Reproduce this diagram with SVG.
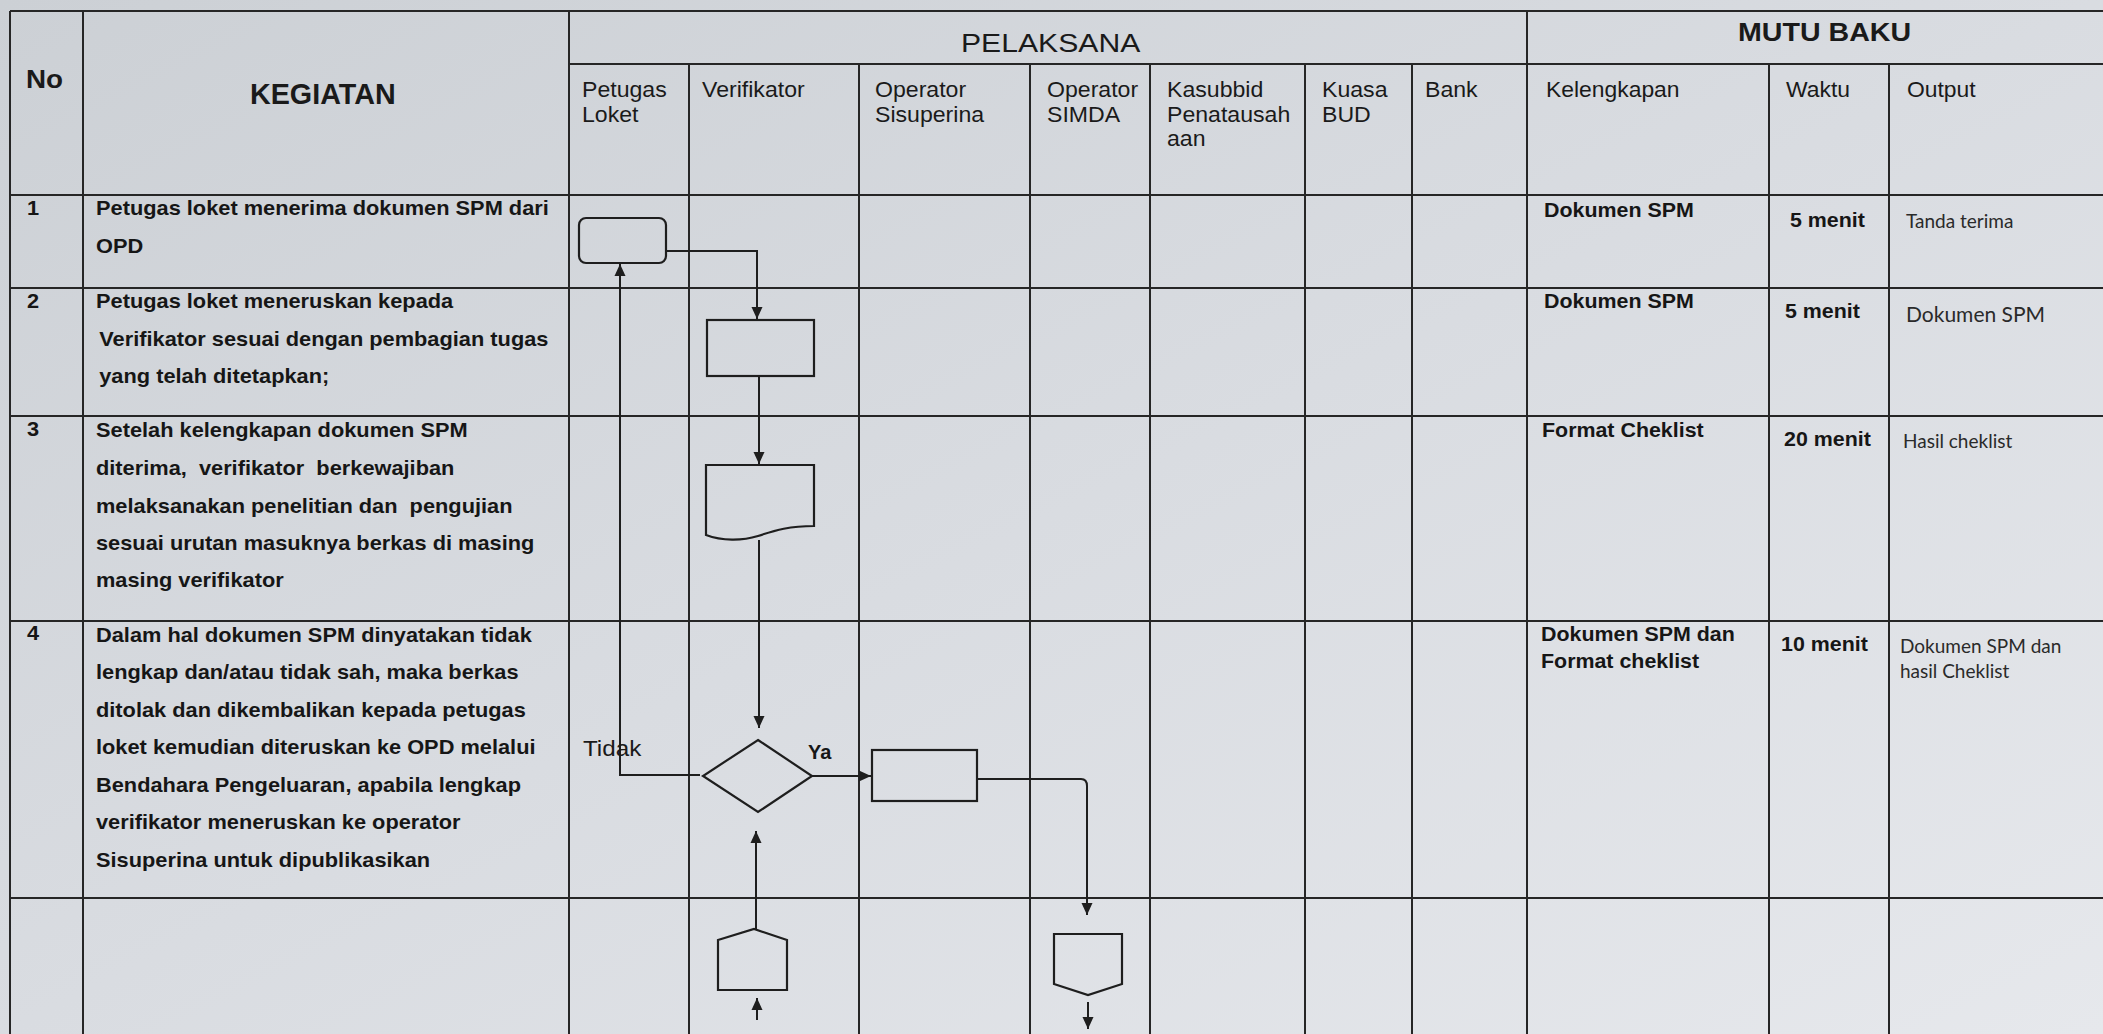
<svg xmlns="http://www.w3.org/2000/svg" width="2103" height="1034" viewBox="0 0 2103 1034">
<defs>
<linearGradient id="bg" x1="0" y1="0" x2="1" y2="1">
<stop offset="0" stop-color="#ccd0d5"/>
<stop offset="0.5" stop-color="#d9dce1"/>
<stop offset="1" stop-color="#e6e8ec"/>
</linearGradient>
<marker id="ah" viewBox="0 0 12 12" refX="12" refY="6" markerWidth="12" markerHeight="12" markerUnits="userSpaceOnUse" orient="auto">
<path d="M0,0.5 L12,6 L0,11.5 z" fill="#1e1e1e"/>
</marker>
<style>
.grid line{stroke:#262626;stroke-width:2}
.shape{fill:none;stroke:#1e1e1e;stroke-width:2.2}
.conn path{fill:none;stroke:#1e1e1e;stroke-width:2;marker-end:url(#ah)}
.h{font-family:"Liberation Sans",Arial,sans-serif;font-size:26px;fill:#1a1a1a}
.hb{font-family:"Liberation Sans",Arial,sans-serif;font-size:26px;font-weight:bold;fill:#1a1a1a}
.c{font-family:"Liberation Sans",Arial,sans-serif;font-size:22px;fill:#1a1a1a}
.b{font-family:"Liberation Sans",Arial,sans-serif;font-size:20px;font-weight:bold;fill:#161616}
.o{font-family:Lato,"Liberation Sans",sans-serif;font-size:19px;fill:#2a2a2a}
.lbl{font-family:"Liberation Sans",Arial,sans-serif;font-size:22px;fill:#1a1a1a}
</style>
</defs>
<rect x="0" y="0" width="2103" height="1034" fill="url(#bg)"/>

<g id="table" class="grid">
<line x1="10" y1="11" x2="2103" y2="11"/>
<line x1="569" y1="64" x2="2103" y2="64"/>
<line x1="10" y1="195" x2="2103" y2="195"/>
<line x1="10" y1="288" x2="2103" y2="288"/>
<line x1="10" y1="416" x2="2103" y2="416"/>
<line x1="10" y1="621" x2="2103" y2="621"/>
<line x1="10" y1="898" x2="2103" y2="898"/>
<line x1="10" y1="11" x2="10" y2="1034"/>
<line x1="83" y1="11" x2="83" y2="1034"/>
<line x1="569" y1="11" x2="569" y2="1034"/>
<line x1="689" y1="64" x2="689" y2="1034"/>
<line x1="859" y1="64" x2="859" y2="1034"/>
<line x1="1030" y1="64" x2="1030" y2="1034"/>
<line x1="1150" y1="64" x2="1150" y2="1034"/>
<line x1="1305" y1="64" x2="1305" y2="1034"/>
<line x1="1412" y1="64" x2="1412" y2="1034"/>
<line x1="1527" y1="11" x2="1527" y2="1034"/>
<line x1="1769" y1="64" x2="1769" y2="1034"/>
<line x1="1889" y1="64" x2="1889" y2="1034"/>
</g>

<g id="header">
<text class="hb" transform="translate(26 88) scale(1.07 1)">No</text>
<text class="hb" style="font-size:29px" transform="translate(250 104) scale(0.99 1)">KEGIATAN</text>
<text class="h" transform="translate(961 52) scale(1.16 1)">PELAKSANA</text>
<text class="hb" transform="translate(1738 41) scale(1.1 1)">MUTU BAKU</text>
<text class="c" transform="translate(582 97) scale(1.05 1)"><tspan x="0" y="0">Petugas</tspan><tspan x="0" y="24.6">Loket</tspan></text>
<text class="c" transform="translate(702 97) scale(1.05 1)">Verifikator</text>
<text class="c" transform="translate(875 97) scale(1.05 1)"><tspan x="0" y="0">Operator</tspan><tspan x="0" y="24.6">Sisuperina</tspan></text>
<text class="c" transform="translate(1047 97) scale(1.05 1)"><tspan x="0" y="0">Operator</tspan><tspan x="0" y="24.6">SIMDA</tspan></text>
<text class="c" transform="translate(1167 97) scale(1.05 1)"><tspan x="0" y="0">Kasubbid</tspan><tspan x="0" y="24.6">Penatausah</tspan><tspan x="0" y="49.2">aan</tspan></text>
<text class="c" transform="translate(1322 97) scale(1.05 1)"><tspan x="0" y="0">Kuasa</tspan><tspan x="0" y="24.6">BUD</tspan></text>
<text class="c" transform="translate(1425 97) scale(1.05 1)">Bank</text>
<text class="c" transform="translate(1546 97) scale(1.04 1)">Kelengkapan</text>
<text class="c" transform="translate(1786 97) scale(1.04 1)">Waktu</text>
<text class="c" transform="translate(1907 97) scale(1.04 1)">Output</text>
</g>

<g id="rows">
<text class="b" transform="translate(27 215) scale(1.09 1)">1</text>
<text class="b" transform="translate(96 215) scale(1.09 1)"><tspan x="0" y="0">Petugas loket menerima dokumen SPM dari</tspan><tspan x="0" y="38">OPD</tspan></text>
<text class="b" transform="translate(27 308) scale(1.09 1)">2</text>
<text class="b" transform="translate(96 308) scale(1.09 1)"><tspan x="0" y="0">Petugas loket meneruskan kepada</tspan><tspan x="3" y="38">Verifikator sesuai dengan pembagian tugas</tspan><tspan x="3" y="75">yang telah ditetapkan;</tspan></text>
<text class="b" transform="translate(27 436) scale(1.09 1)">3</text>
<text class="b" xml:space="preserve" transform="translate(96 437) scale(1.09 1)"><tspan x="0" y="0">Setelah kelengkapan dokumen SPM</tspan><tspan x="0" y="37.8">diterima,  verifikator  berkewajiban</tspan><tspan x="0" y="75.6">melaksanakan penelitian dan  pengujian</tspan><tspan x="0" y="113.4">sesuai urutan masuknya berkas di masing</tspan><tspan x="0" y="150.5">masing verifikator</tspan></text>
<text class="b" transform="translate(27 640) scale(1.09 1)">4</text>
<text class="b" transform="translate(96 642) scale(1.09 1)"><tspan x="0" y="0">Dalam hal dokumen SPM dinyatakan tidak</tspan><tspan x="0" y="37.5">lengkap dan/atau tidak sah, maka berkas</tspan><tspan x="0" y="75">ditolak dan dikembalikan kepada petugas</tspan><tspan x="0" y="112.5">loket kemudian diteruskan ke OPD melalui</tspan><tspan x="0" y="150">Bendahara Pengeluaran, apabila lengkap</tspan><tspan x="0" y="187.5">verifikator meneruskan ke operator</tspan><tspan x="0" y="225">Sisuperina untuk dipublikasikan</tspan></text>

<text class="b" transform="translate(1544 217) scale(1.07 1)">Dokumen SPM</text>
<text class="b" transform="translate(1544 308) scale(1.07 1)">Dokumen SPM</text>
<text class="b" transform="translate(1542 437) scale(1.07 1)">Format Cheklist</text>
<text class="b" transform="translate(1541 641) scale(1.07 1)"><tspan x="0" y="0">Dokumen SPM dan</tspan><tspan x="0" y="27">Format cheklist</tspan></text>

<text class="b" transform="translate(1790 227) scale(1.07 1)">5 menit</text>
<text class="b" transform="translate(1785 318) scale(1.07 1)">5 menit</text>
<text class="b" transform="translate(1784 446) scale(1.07 1)">20 menit</text>
<text class="b" transform="translate(1781 651) scale(1.07 1)">10 menit</text>

<text class="o" x="1906" y="228">Tanda terima</text>
<text class="o" x="1906" y="322" style="font-size:21px">Dokumen SPM</text>
<text class="o" x="1903" y="448">Hasil cheklist</text>
<text class="o" x="1900" y="653"><tspan x="1900" y="653">Dokumen SPM dan</tspan><tspan x="1900" y="678">hasil Cheklist</tspan></text>
</g>

<g id="connectors" class="conn">
<path d="M666,251 H757 V319"/>
<path d="M759,376 V464"/>
<path d="M759,540 V728"/>
<path d="M700,775 H620 V264"/>
<path d="M812,776 H871"/>
<path d="M977,779 H1081 Q1087,779 1087,786 V915"/>
<path d="M756,929 V831"/>
<path d="M757,1020 V998"/>
<path d="M1088,1002 V1029"/>
<text class="lbl" transform="translate(583 756) scale(1.1 1)">Tidak</text>
<text class="b" x="808" y="759">Ya</text>
</g>

<g id="n1-terima"><rect class="shape" x="579" y="218" width="87" height="45" rx="7"/></g>
<g id="n2-teruskan"><rect class="shape" x="707" y="320" width="107" height="56"/></g>
<g id="n3-checklist"><path class="shape" d="M706,465 H814 V526 C790,526 776,530 758,536 C742,541 722,541 706,535 Z"/></g>
<g id="n4-decision"><path class="shape" d="M758,740 L812,776 L758,812 L703,776 Z"/></g>
<g id="n5-sisuperina"><rect class="shape" x="872" y="750" width="105" height="51"/></g>
<g id="n6-offpage-in"><path class="shape" d="M718,940 L754,929 L787,940 V990 H718 Z"/></g>
<g id="n7-offpage-out"><path class="shape" d="M1054,934 H1122 V984 L1088,995 L1054,984 Z"/></g>
</svg>
